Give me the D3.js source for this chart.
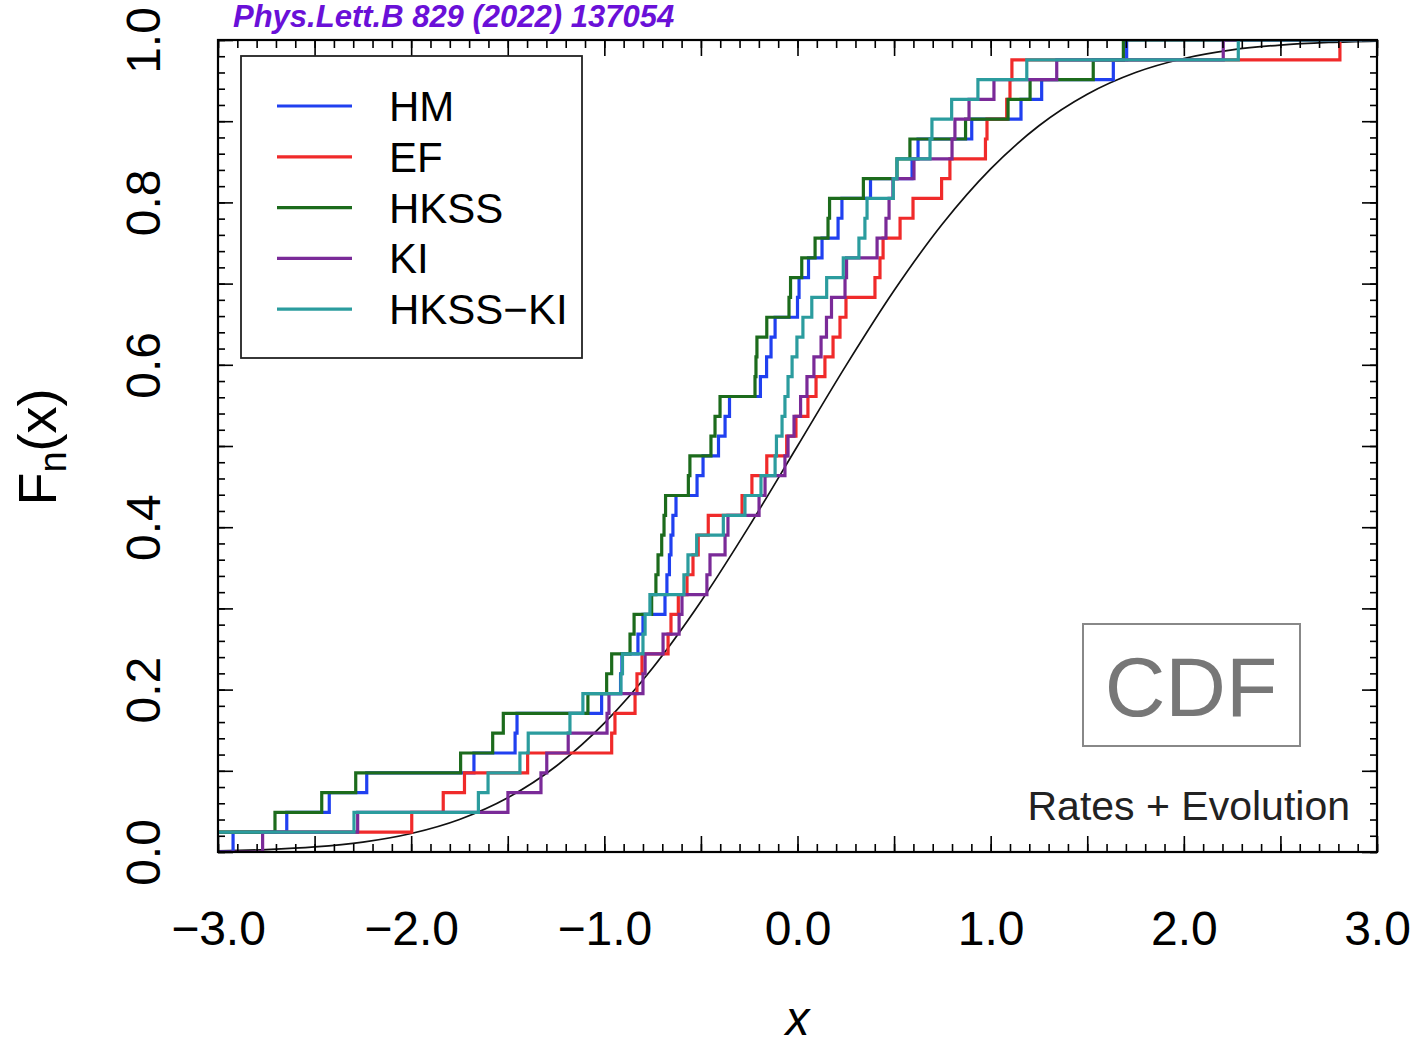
<!DOCTYPE html>
<html>
<head>
<meta charset="utf-8">
<script src="https://cdn.jsdelivr.net/npm/d3@7"></script>
<style>
  html, body { margin: 0; padding: 0; background: #fff; }
  svg { display: block; font-family: "Liberation Sans", Arial, Helvetica, sans-serif; }
</style>
</head>
<body>
<svg id="chart" width="1416" height="1047"></svg>
<script>
// Empirical CDFs of the five model samples (41 sorted values each)
const seriesNames  = ["HM", "EF", "HKSS", "KI", "HKSS−KI"];
const seriesColors = ["#2040f0", "#f02a2a", "#1c6b1c", "#7a2a98", "#2b9c9e"];

const hm = [-2.922, -2.644, -2.424, -2.230, -1.675, -1.462, -1.452, -1.014, -0.916, -0.909,
            -0.826, -0.800, -0.686, -0.676, -0.663, -0.655, -0.645, -0.629, -0.520, -0.489,
            -0.409, -0.375, -0.352, -0.192, -0.160, -0.137, -0.116, 0.000, 0.008, 0.057,
            0.127, 0.210, 0.230, 0.378, 0.593, 0.624, 0.902, 1.157, 1.264, 1.635, 1.704];
const ef = [-3.100, -1.997, -1.834, -1.724, -1.397, -0.962, -0.945, -0.841, -0.831, -0.805,
            -0.670, -0.655, -0.617, -0.572, -0.541, -0.514, -0.462, -0.287, -0.236, -0.159,
            -0.056, -0.008, 0.054, 0.096, 0.142, 0.184, 0.220, 0.251, 0.401, 0.427,
            0.443, 0.531, 0.598, 0.746, 0.789, 0.973, 0.981, 1.083, 1.100, 1.110, 2.808];
const hkss = [-3.150, -2.705, -2.463, -2.287, -1.744, -1.578, -1.523, -1.085, -0.988, -0.962,
              -0.867, -0.846, -0.755, -0.733, -0.722, -0.703, -0.691, -0.683, -0.565, -0.557,
              -0.448, -0.427, -0.401, -0.220, -0.215, -0.210, -0.159, -0.044, -0.036, 0.022,
              0.091, 0.158, 0.166, 0.341, 0.515, 0.582, 0.870, 1.090, 1.204, 1.531, 1.687];
const ki = [-2.769, -2.277, -1.499, -1.328, -1.298, -1.187, -0.986, -0.976, -0.800, -0.789,
            -0.696, -0.613, -0.598, -0.469, -0.453, -0.375, -0.360, -0.199, -0.168, -0.065,
            -0.049, -0.018, 0.016, 0.049, 0.085, 0.122, 0.150, 0.176, 0.246, 0.254,
            0.412, 0.458, 0.474, 0.494, 0.603, 0.800, 0.815, 0.888, 1.017, 1.342, 2.204];
const hkssKi = [-3.120, -2.296, -1.652, -1.602, -1.437, -1.394, -1.178, -1.111, -0.914, -0.906,
                -0.800, -0.789, -0.764, -0.588, -0.567, -0.522, -0.384, -0.272, -0.189, -0.116,
                -0.109, -0.080, -0.065, -0.049, -0.028, -0.003, 0.028, 0.074, 0.151, 0.237,
                0.318, 0.349, 0.360, 0.496, 0.515, 0.686, 0.696, 0.798, 0.934, 1.187, 2.282];
const seriesValues = [hm, ef, hkss, ki, hkssKi];

// Reference Gaussian CDF, tabulated
const refX = [-3, -2.75, -2.5, -2.25, -2, -1.75, -1.5, -1.25, -1, -0.75, -0.5, -0.25, 0,
              0.25, 0.5, 0.75, 1, 1.25, 1.5, 1.75, 2, 2.25, 2.5, 2.75, 3];
const refY = [0.0013, 0.0030, 0.0062, 0.0122, 0.0228, 0.0401, 0.0668, 0.1056, 0.1587, 0.2266,
              0.3085, 0.4013, 0.5, 0.5987, 0.6915, 0.7734, 0.8413, 0.8944, 0.9332, 0.9599,
              0.9772, 0.9878, 0.9938, 0.9970, 0.9987];

// Axis tick labels
const xLabelTicks = [-3, -2, -1, 0, 1, 2, 3];
const yLabelTicks = [0, 0.2, 0.4, 0.6, 0.8, 1.0];

const svg = d3.select("#chart");
const pL = 218, pR = 1377, pT = 40, pB = 852;

const x = d3.scaleLinear().domain([-3, 3]).range([pL, pR]);
const y = d3.scaleLinear().domain([0, 1]).range([pB, pT]);

svg.append("defs").append("clipPath").attr("id", "plotClip")
  .append("rect").attr("x", pL).attr("y", pT)
  .attr("width", pR - pL).attr("height", pB - pT);

const plot = svg.append("g").attr("clip-path", "url(#plotClip)");

// Reference curve
const refLine = d3.line().x(d => x(d[0])).y(d => y(d[1])).curve(d3.curveMonotoneX);
plot.append("path")
  .attr("d", refLine(d3.zip(refX, refY)))
  .attr("fill", "none").attr("stroke", "#111").attr("stroke-width", 1.7);

// Step functions
const stepLine = d3.line().x(d => x(d[0])).y(d => y(d[1])).curve(d3.curveStepAfter);
seriesValues.forEach((vals, si) => {
  const n = vals.length;
  const pts = [[-3.5, 0]].concat(vals.map((v, i) => [v, (i + 1) / n]), [[3.5, 1]]);
  plot.append("path")
    .attr("d", stepLine(pts))
    .attr("fill", "none")
    .attr("stroke", seriesColors[si])
    .attr("stroke-width", 3.2)
    .attr("stroke-linejoin", "miter");
});

// Inward ticks on all four sides
function ticks(axisFn, pos, values, size) {
  const g = svg.append("g").attr("transform", pos)
    .call(axisFn.tickValues(values).tickSize(-size).tickFormat(""));
  g.select(".domain").remove();
  g.selectAll(".tick line").attr("stroke", "#000").attr("stroke-width", 1.6);
}
const xMinor = d3.range(-30, 31).map(i => i / 10);
const xMajor = d3.range(-6, 7).map(i => i / 2);
const yMinor = d3.range(0, 51).map(i => i / 50);
const yMajor = d3.range(0, 11).map(i => i / 10);
ticks(d3.axisBottom(x), `translate(0,${pB})`, xMinor, 8);
ticks(d3.axisBottom(x), `translate(0,${pB})`, xMajor, 16);
ticks(d3.axisTop(x), `translate(0,${pT})`, xMinor, 8);
ticks(d3.axisTop(x), `translate(0,${pT})`, xMajor, 16);
ticks(d3.axisLeft(y), `translate(${pL},0)`, yMinor, 7);
ticks(d3.axisLeft(y), `translate(${pL},0)`, yMajor, 15);
ticks(d3.axisRight(y), `translate(${pR},0)`, yMinor, 7);
ticks(d3.axisRight(y), `translate(${pR},0)`, yMajor, 15);

// Frame
svg.append("rect").attr("x", pL).attr("y", pT)
  .attr("width", pR - pL).attr("height", pB - pT)
  .attr("fill", "none").attr("stroke", "#000").attr("stroke-width", 2.2);

// Tick labels
const fmt = d3.format(".1f");
const gxl = svg.append("g").attr("transform", `translate(0,${pB})`)
  .call(d3.axisBottom(x).tickValues(xLabelTicks).tickSize(0).tickPadding(59).tickFormat(fmt));
gxl.select(".domain").remove();
gxl.selectAll("text").attr("font-size", 48).attr("fill", "#000")
  .attr("font-family", "Liberation Sans, Arial, sans-serif");

const gyl = svg.append("g").attr("transform", `translate(${pL},0)`)
  .call(d3.axisLeft(y).tickValues(yLabelTicks).tickSize(0).tickFormat(fmt));
gyl.select(".domain").remove();
gyl.selectAll(".tick text")
  .attr("x", null).attr("dy", null)
  .attr("text-anchor", "middle")
  .attr("transform", "translate(-58,0) rotate(-90)")
  .attr("font-size", 48).attr("fill", "#000")
  .attr("font-family", "Liberation Sans, Arial, sans-serif");

// Axis titles
const yTitle = svg.append("text")
  .attr("transform", "translate(56,447) rotate(-90)")
  .attr("text-anchor", "middle").attr("font-size", 54).attr("fill", "#000");
yTitle.append("tspan").text("F");
yTitle.append("tspan").attr("font-size", 38).attr("dy", 10).text("n");
yTitle.append("tspan").attr("dy", -10).text("(x)");

svg.append("text").attr("x", x(0)).attr("y", 1035)
  .attr("text-anchor", "middle").attr("font-size", 48).attr("font-style", "italic")
  .attr("fill", "#000").text("x");

// Reference label at the top
svg.append("text").attr("x", 233).attr("y", 27)
  .attr("font-size", 31).attr("font-weight", "bold").attr("font-style", "italic")
  .attr("fill", "#6a10d8").text("Phys.Lett.B 829 (2022) 137054");

// Legend
const legend = svg.append("g");
legend.append("rect").attr("x", 241).attr("y", 56).attr("width", 341).attr("height", 302)
  .attr("fill", "#fff").attr("stroke", "#222").attr("stroke-width", 1.8);
const rows = legend.selectAll("g.row").data(seriesNames).join("g")
  .attr("class", "row")
  .attr("transform", (d, i) => `translate(0,${106 + i * 50.8})`);
rows.append("line").attr("x1", 277).attr("x2", 352).attr("y1", 0).attr("y2", 0)
  .attr("stroke", (d, i) => seriesColors[i]).attr("stroke-width", 3.2);
rows.append("text").attr("x", 389).attr("y", 15).attr("font-size", 42)
  .attr("fill", "#000").text(d => d);

// Panel annotations
svg.append("rect").attr("x", 1083).attr("y", 624).attr("width", 217).attr("height", 122)
  .attr("fill", "#fff").attr("stroke", "#888").attr("stroke-width", 2);
svg.append("text").attr("x", 1191).attr("y", 716).attr("text-anchor", "middle")
  .attr("font-size", 84).attr("fill", "#777").text("CDF");
svg.append("text").attr("x", 1350).attr("y", 820).attr("text-anchor", "end")
  .attr("font-size", 41).attr("fill", "#222").text("Rates + Evolution");
</script>
</body>
</html>
